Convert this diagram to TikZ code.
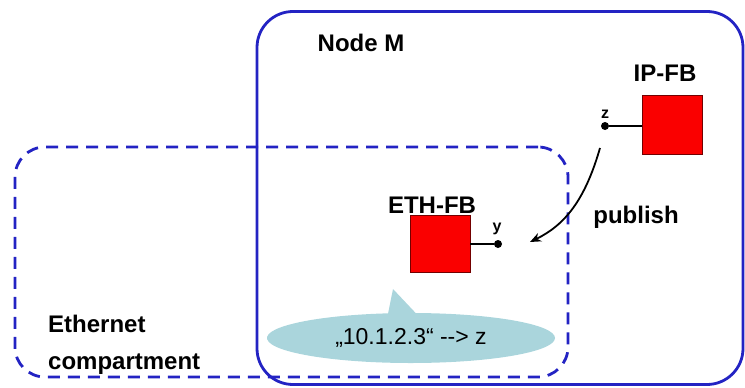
\documentclass[tikz,border=0pt]{standalone}
\usepackage{fontspec}
\setmainfont{Liberation Sans}
\usetikzlibrary{shapes.callouts,arrows.meta}

\definecolor{frameblue}{RGB}{35,35,195}
\definecolor{fbred}{RGB}{250,0,0}
\definecolor{cloudteal}{RGB}{170,213,220}

\begin{document}
\begin{tikzpicture}[x=1pt,y=-1pt,
	nodebox/.style={rectangle, rounded corners=36, draw=frameblue, line width=2.8pt, inner sep=0},
	compbox/.style={nodebox, rounded corners=30, dash pattern=on 12pt off 8pt},
	fbbox/.style={rectangle, draw=red!45!black, fill=fbred, line width=0.6pt, inner sep=0},
	port/.style={circle, fill=black, minimum size=8, inner sep=0},
	lbl/.style={font=\fontsize{24}{28}\selectfont\bfseries, inner sep=0},
	portlbl/.style={font=\fontsize{16}{18}\selectfont\bfseries, inner sep=0},
	link/.style={line width=1.8pt}]
		\useasboundingbox (0,0) rectangle (745,388);
		\draw (500,198) node [nodebox, minimum width=486, minimum height=373] (M) {};
		\draw (291.5,262) node [compbox, minimum width=553, minimum height=230] (comp) {};
		\draw (361,43) node [lbl] (Mlbl) {Node M};
		\draw (48,332) node [lbl, anchor=base west] (complbl1) {Ethernet};
		\draw (48,369) node [lbl, anchor=base west] (complbl2) {compartment};
		% the two function blocks
		\draw (672,124.5) node [fbbox, minimum width=60, minimum height=59] (ipfb) {};
		\draw (665,73) node [lbl] (ipfblbl) {IP-FB};
		\draw (440,243.5) node [fbbox, minimum width=60, minimum height=57] (ethfb) {};
		\draw (432,205) node [lbl] (ethfblbl) {ETH-FB};
		\draw (605,126) node [port] (z) {};
		\draw (605,114) node [portlbl] (zlbl) {z};
		\draw (498,244) node [port] (y) {};
		\draw (497,229) node [portlbl] (ylbl) {y};
		\draw [link]
		(z) -- (z -| ipfb.west)
		(y) -- (y -| ethfb.east);
		% publish arrow
		\coordinate (pubstart) at (600,148);
		\coordinate (pubend) at (530,242);
		\draw [link, -{Stealth[length=11pt,width=9pt]}] (pubstart) .. controls (585,200) and (565,225) .. (pubend);
		\draw (636,217) node [lbl] (publbl) {publish};
		% table entry
		\draw (411,338) node [ellipse callout, fill=cloudteal, minimum width=288, minimum height=50, inner sep=0,
			callout absolute pointer={(393,289)}, callout pointer arc=11,
			font=\fontsize{23}{26}\selectfont] (entry) {„10.1.2.3“ -{}-> z};
	\end{tikzpicture}
\end{document}
